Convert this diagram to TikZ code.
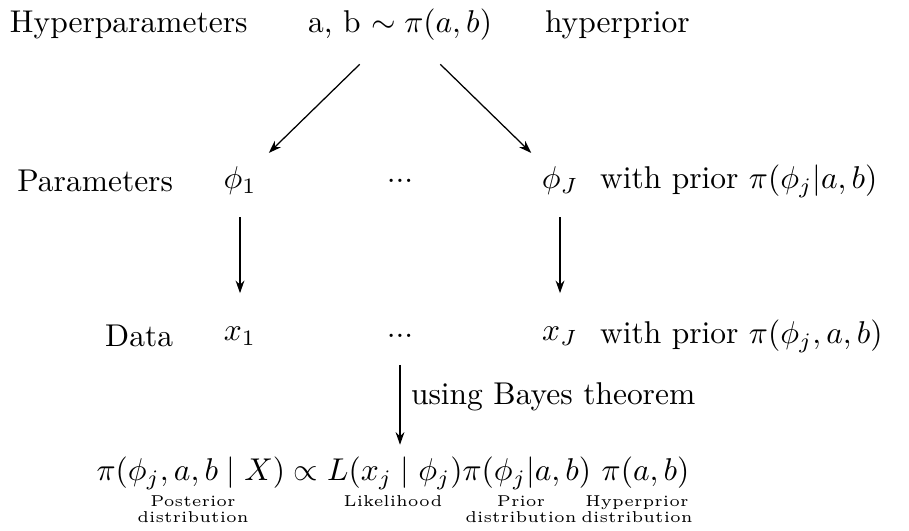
\documentclass[tikz,border=0pt]{standalone}
\usepackage{amsmath}
\usetikzlibrary{arrows.meta}
\begin{document}
\begin{tikzpicture}[x=0.3175pt,y=-0.3175pt,
  every node/.style={inner sep=0pt, outer sep=0pt},
  arr/.style={-{Stealth[length=4pt,width=2.8pt]}, line width=0.4pt},
  lbl/.style={anchor=north, align=center, font=\fontsize{5}{5}\selectfont}]
\useasboundingbox (0,0) rectangle (909,530);
% top row
\node[anchor=west] (hp) at (10,25) {Hyperparameters};
\node (top) at (400,25) {a, b $\sim \pi(a,b)$};
\node[anchor=west] (hpr) at (545,25) {hyperprior};
% parameters row
\node[anchor=east] (par) at (173,181) {Parameters};
\node (phi1) at (240,181) {$\phi_1$};
\node (d1) at (400,181) {...};
\node (phiJ) at (560,181) {$\phi_J$};
\node[anchor=west] (pr1) at (600,181) {with prior $\pi(\phi_j|a,b)$};
% data row
\node[anchor=east] (dat) at (173,336) {Data};
\node (x1) at (240,336) {$x_1$};
\node (d2) at (400,336) {...};
\node (xJ) at (560,336) {$x_J$};
\node[anchor=west] (pr2) at (600,336) {with prior $\pi(\phi_j,a,b)$};
% equation
\node (eq) at (393,473) {$\pi(\phi_j, a, b \mid X) \propto L(x_j \mid \phi_j)\pi(\phi_j|a,b)\ \pi(a,b)$};
\node[lbl] (lpost) at (193,496) {Posterior\\distribution};
\node[lbl] (llik) at (393,496) {Likelihood};
\node[lbl] (lprior) at (521,496) {Prior\\distribution};
\node[lbl] (lhyp) at (637,496) {Hyperprior\\distribution};
% arrows
\draw[arr, shorten <=10.7pt, shorten >=6.4pt] (top) -- (phi1);
\draw[arr, shorten <=10.7pt, shorten >=6.4pt] (top) -- (phiJ);
\draw[arr, shorten <=7pt, shorten >=10.7pt] (phi1) -- (x1);
\draw[arr, shorten <=7pt, shorten >=10.7pt] (phiJ) -- (xJ);
\draw[arr, shorten <=8.6pt, shorten >=3.8pt] (d2.south) -- (d2.south |- eq.north)
  node[midway, anchor=west, xshift=3.5pt] (bayes) {using Bayes theorem};
\end{tikzpicture}
\end{document}
